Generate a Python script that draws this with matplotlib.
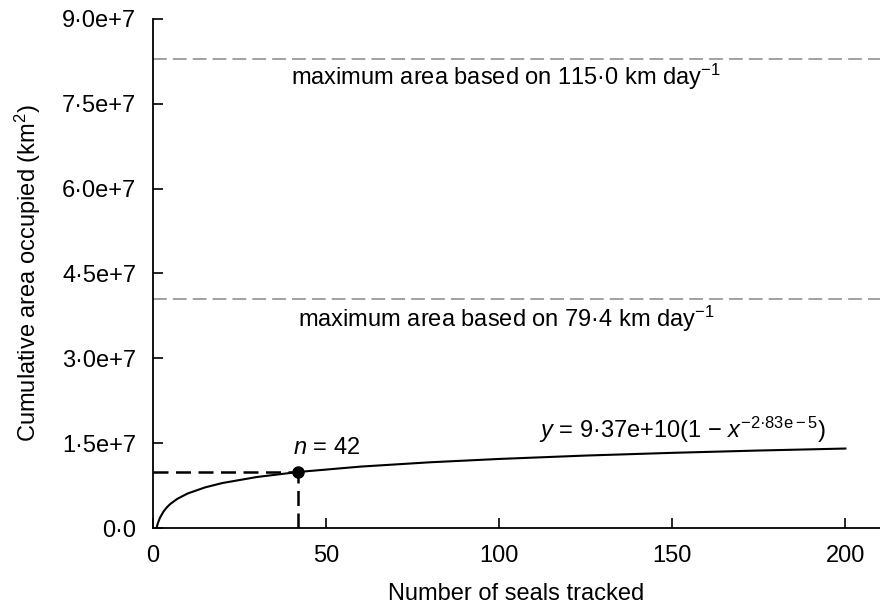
import matplotlib
matplotlib.use('Agg')
import matplotlib.pyplot as plt

# values
curve_x = [1, 1.2, 1.5, 2, 3, 4, 5, 7, 10, 15, 20, 30, 42, 60, 80, 100, 125, 150, 175, 200]
curve_y = [0, 0.48e6, 1.07e6, 1.84e6, 2.91e6, 3.68e6, 4.27e6, 5.16e6, 6.11e6, 7.18e6,
           7.95e6, 9.02e6, 9.91e6, 1.086e7, 1.162e7, 1.221e7, 1.281e7, 1.329e7, 1.370e7, 1.405e7]
n_seals = 42
n_area = 9.91e6
max_area_115 = 8.3e7
max_area_79 = 4.05e7

xticks = [0, 50, 100, 150, 200]
yticks = [0, 1.5e7, 3.0e7, 4.5e7, 6.0e7, 7.5e7, 9.0e7]
ytick_labels = ['0·0', '1·5e+7', '3·0e+7', '4·5e+7', '6·0e+7', '7·5e+7', '9·0e+7']

plt.rcParams['font.family'] = ['Liberation Sans', 'DejaVu Sans']
plt.rcParams['mathtext.fontset'] = 'custom'
plt.rcParams['mathtext.rm'] = 'Liberation Sans'
plt.rcParams['mathtext.it'] = 'Liberation Sans:italic'
plt.rcParams['font.size'] = 17

fig = plt.figure(figsize=(8.8, 6.06), dpi=100)
ax = fig.add_axes([0.174, 0.1287, 0.826, 0.84])

# max area lines
ax.axhline(max_area_115, color='#888888', lw=1.1, dashes=(9, 4))
ax.axhline(max_area_79, color='#888888', lw=1.1, dashes=(9, 4))
ax.text(102, max_area_115 - 3.25e6, r'maximum area based on 115·0 km day$^{-1}$',
        ha='center', va='center')
ax.text(102, max_area_79 - 3.55e6, r'maximum area based on 79·4 km day$^{-1}$',
        ha='center', va='center')

# fitted curve
ax.plot(curve_x, curve_y, color='black', lw=1.5)

# n = 42 guide lines
ax.plot([0, n_seals], [n_area, n_area], color='black', lw=1.8, dashes=(6, 3))
ax.plot([n_seals, n_seals], [0, n_area], color='black', lw=1.8, dashes=(6, 3))
ax.plot([n_seals], [n_area], 'o', color='black', ms=8, clip_on=False, zorder=5)
ax.text(n_seals + 8, 1.41e7, r'$n$ = 42', ha='center', va='center')
ax.text(153, 1.73e7, r'$y$ = 9·37e+10(1 $-$ $x^{-2\mathrm{·}83\mathrm{e}-5}$)',
        ha='center', va='center')

ax.set_xlim(0, 210)
ax.set_ylim(0, 9.0e7)
ax.set_xticks(xticks)
ax.set_yticks(yticks)
ax.set_yticklabels(ytick_labels)
ax.tick_params(direction='in', length=7, width=1.2, pad=12)
ax.spines['top'].set_visible(False)
ax.spines['right'].set_visible(False)
ax.spines['left'].set_linewidth(1.3)
ax.spines['bottom'].set_linewidth(1.3)

ax.set_xlabel('Number of seals tracked', labelpad=12)
ax.set_ylabel(r'Cumulative area occupied (km$^{2}$)', labelpad=14)

fig.savefig('out.png', dpi=100)
